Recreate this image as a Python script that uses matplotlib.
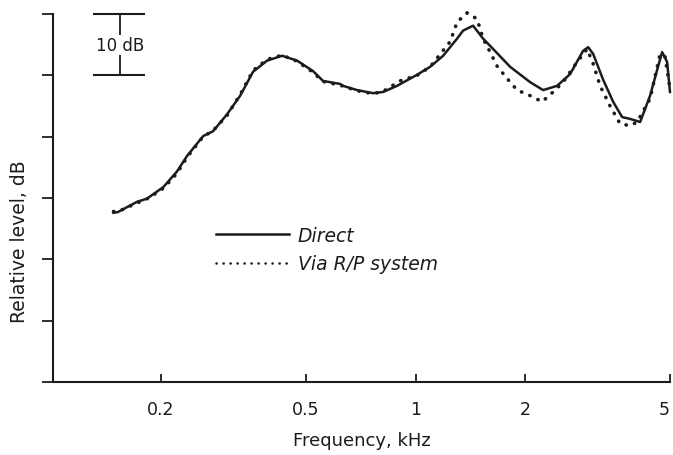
import matplotlib.pyplot as plt
import numpy as np

# frequency response, kHz / dB
direct_f = [0.148, 0.152, 0.172, 0.183, 0.203, 0.221, 0.236, 0.261, 0.278, 0.304,
            0.330, 0.358, 0.391, 0.430, 0.473, 0.523, 0.557, 0.621, 0.632, 0.691,
            0.765, 0.815, 0.890, 1.010, 1.097, 1.191, 1.301, 1.351, 1.439, 1.533,
            1.634, 1.819, 2.064, 2.242, 2.449, 2.658, 2.886, 2.980, 3.076, 3.276,
            3.490, 3.695, 3.887, 4.140, 4.410, 4.640, 4.758, 4.910, 5.000]
direct_db = [27.6, 27.7, 29.4, 29.9, 31.8, 34.3, 36.9, 40.1, 40.9, 43.7,
             46.7, 50.6, 52.4, 53.2, 52.4, 50.7, 49.1, 48.6, 48.3, 47.6,
             47.1, 47.3, 48.3, 50.1, 51.4, 53.2, 56.0, 57.3, 58.1, 56.0,
             54.3, 51.4, 48.9, 47.6, 48.3, 50.2, 54.0, 54.6, 53.5, 49.3,
             45.7, 43.2, 42.9, 42.4, 46.7, 51.5, 53.8, 52.2, 47.3]

rp_f = [0.148, 0.155, 0.172, 0.185, 0.203, 0.221, 0.236, 0.261, 0.278, 0.304,
        0.330, 0.358, 0.391, 0.430, 0.473, 0.523, 0.557, 0.621, 0.691, 0.765,
        0.815, 0.907, 1.010, 1.097, 1.245, 1.301, 1.386, 1.476, 1.533, 1.603,
        1.676, 1.784, 1.902, 2.064, 2.227, 2.388, 2.544, 2.780, 2.961, 3.076,
        3.214, 3.424, 3.648, 3.887, 4.062, 4.410, 4.698, 4.849, 5.000]
rp_db = [27.8, 28.0, 29.2, 30.0, 31.6, 34.0, 36.7, 40.0, 41.0, 43.5,
         46.9, 50.8, 52.6, 53.3, 52.3, 50.5, 49.0, 48.4, 47.5, 47.0,
         47.4, 49.1, 50.0, 51.4, 55.5, 58.7, 60.2, 59.2, 56.0, 53.8,
         51.5, 49.5, 47.6, 46.7, 45.7, 47.3, 48.9, 52.2, 54.3, 51.9,
         48.3, 45.0, 42.1, 41.8, 42.4, 46.2, 53.5, 53.0, 47.8]

x_ticks = [0.2, 0.5, 1, 2, 5]
x_ticklabels = ['0.2', '0.5', '1', '2', '5']

ink = '#1c1c1c'
plt.rcParams['font.family'] = ['DejaVu Sans']

fig = plt.figure(figsize=(6.73, 4.56), dpi=100)
ax = fig.add_axes([0.0788, 0.160, 0.9167, 0.807])

ax.plot(direct_f, direct_db, color=ink, lw=1.8, label='Direct', clip_on=False)
ax.plot(rp_f, rp_db, color=ink, lw=2.6, linestyle=(0, (0.1, 2.4)),
        dash_capstyle='round', label='Via R/P system', clip_on=False)

ax.set_xscale('log')
ax.set_xlim(0.101, 5.0)
ax.set_ylim(0, 60)

ax.set_xticks(x_ticks)
ax.set_xticklabels(x_ticklabels)
ax.xaxis.set_minor_locator(plt.NullLocator())
ax.get_xticklabels()[-1].set_ha('right')
ax.set_yticks(np.arange(0, 61, 10))
ax.set_yticklabels([])

ax.tick_params(axis='x', direction='in', length=6, width=1.3, colors=ink,
               labelsize=12.5, pad=13)
ax.tick_params(axis='y', direction='out', length=8, width=1.3, colors=ink)

for side in ('top', 'right'):
    ax.spines[side].set_visible(False)
for side in ('left', 'bottom'):
    ax.spines[side].set_linewidth(1.5)
    ax.spines[side].set_color(ink)

ax.set_xlabel('Frequency, kHz', fontsize=13, color=ink, labelpad=9)
ax.set_ylabel('Relative level, dB', fontsize=13.5, color=ink)
ax.yaxis.set_label_coords(-0.039, 0.383)

# 10 dB scale bar
bar_lo, bar_hi, bar_x = 0.130, 0.181, 0.154
ax.hlines([50, 60], bar_lo, bar_hi, color=ink, lw=1.5, clip_on=False)
ax.vlines(bar_x, 56.6, 60, color=ink, lw=1.3, clip_on=False)
ax.vlines(bar_x, 50, 53.4, color=ink, lw=1.3, clip_on=False)
ax.text(bar_x, 55, '10 dB', ha='center', va='center', fontsize=12, color=ink)

leg = ax.legend(loc='upper left', bbox_to_anchor=(0.236, 0.47), frameon=False,
                handlelength=3.9, handletextpad=0.48, labelspacing=0.5,
                prop={'style': 'italic', 'size': 13.5})
for t in leg.get_texts():
    t.set_color(ink)
leg.get_lines()[1].set_linewidth(1.8)
leg.get_lines()[1].set_linestyle((0, (0.1, 2.7)))

fig.savefig('out.png', dpi=100)
